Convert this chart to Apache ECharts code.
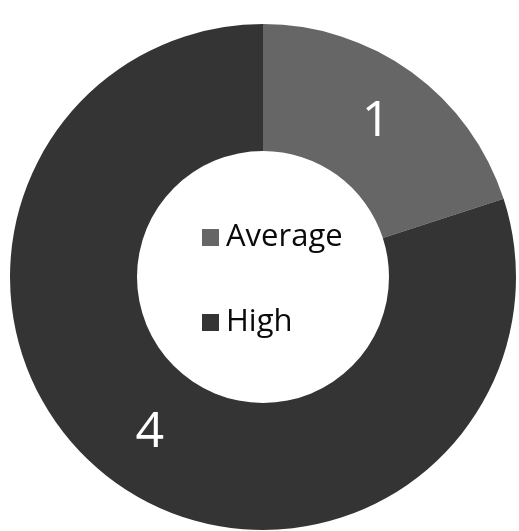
<!DOCTYPE html>
<html>
<head>
<meta charset="utf-8">
<script src="https://cdn.jsdelivr.net/npm/echarts@6/dist/echarts.min.js"></script>
<style>
  html, body { margin: 0; padding: 0; background: #fff; }
  #chart { width: 519px; height: 531px; }
</style>
</head>
<body>
<div id="chart"></div>
<script>
// Ratings breakdown shown as a donut
const categories = ['Average', 'High'];
const counts = [1, 4];
const sliceColors = ['#666666', '#343434'];

const chart = echarts.init(document.getElementById('chart'), null, { renderer: 'canvas' });

chart.setOption({
  animation: false,
  backgroundColor: '#ffffff',
  legend: {
    data: categories,
    orient: 'vertical',
    left: 197,
    top: 217,
    icon: 'rect',
    itemWidth: 17,
    itemHeight: 17,
    itemGap: 54,
    textStyle: {
      fontFamily: 'Open Sans',
      fontSize: 31,
      color: '#0a0a0a',
      padding: [0, 0, 0, 2]
    }
  },
  series: [{
    type: 'pie',
    center: [263, 277],
    radius: [126, 253],
    startAngle: 90,
    clockwise: true,
    silent: true,
    data: categories.map((name, i) => ({
      name,
      value: counts[i],
      itemStyle: { color: sliceColors[i] }
    })),
    label: {
      show: true,
      position: 'inside',
      formatter: '{c}',
      color: '#ffffff',
      fontFamily: 'Open Sans',
      fontSize: 50
    },
    labelLine: { show: false },
    emphasis: { disabled: true }
  }]
});
</script>
</body>
</html>
